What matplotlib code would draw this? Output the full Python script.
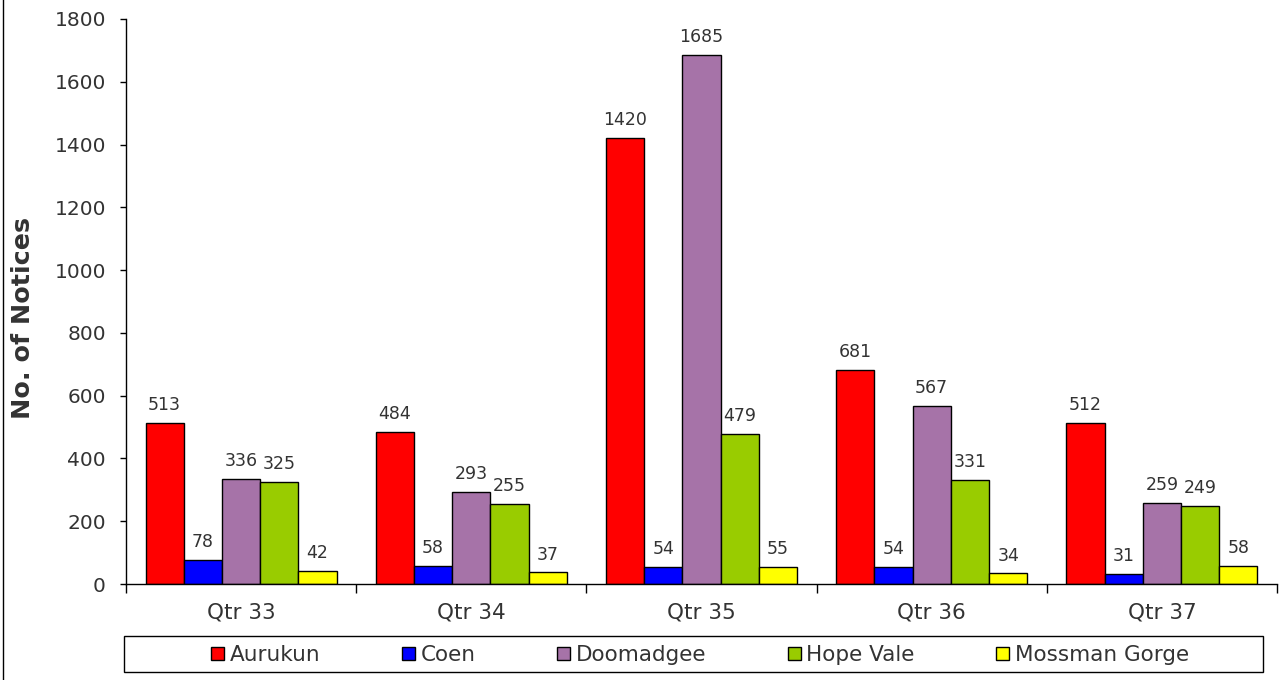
import numpy as np
import matplotlib.pyplot as plt
from matplotlib.lines import Line2D
from matplotlib.patches import Rectangle

quarters = ['Qtr 33', 'Qtr 34', 'Qtr 35', 'Qtr 36', 'Qtr 37']
series = ['Aurukun', 'Coen', 'Doomadgee', 'Hope Vale', 'Mossman Gorge']
colors = ['#ff0000', '#0000ff', '#a673a8', '#99cc00', '#ffff00']

aurukun = [513, 484, 1420, 681, 512]
coen = [78, 58, 54, 54, 31]
doomadgee = [336, 293, 1685, 567, 259]
hope_vale = [325, 255, 479, 331, 249]
mossman = [42, 37, 55, 34, 58]

values = [aurukun, coen, doomadgee, hope_vale, mossman]

TXT = '#333333'
W, H = 1284, 680

fig = plt.figure(figsize=(W / 100, H / 100), dpi=100)
ax = fig.add_axes([126 / W, 1 - 584 / H, (1277 - 126) / W, (584 - 19) / H])

x = np.arange(len(quarters))
w = 0.166
for i, (name, vals, c) in enumerate(zip(series, values, colors)):
  pos = x + (i - 2) * w
  bars = ax.bar(pos, vals, width=w, color=c, edgecolor='black', lw=1.0, label=name)
  for b, v in zip(bars, vals):
    ax.text(b.get_x() + b.get_width() / 2, v + 28, str(v), ha='center', va='bottom',
            fontsize=12.5, color=TXT)

ax.set_xlim(-0.5, len(quarters) - 0.5)
ax.set_ylim(0, 1800)
ax.set_yticks(range(0, 1801, 200))
ax.tick_params(axis='y', labelsize=14.5, colors='black', labelcolor=TXT, length=4.5, width=1, direction='out', pad=10)
ax.set_xticks(x)
ax.set_xticklabels(quarters)
ax.set_xticks(np.arange(-0.5, len(quarters), 1), minor=True)
ax.tick_params(axis='x', which='major', length=0, labelsize=15.5, labelcolor=TXT, pad=13)
ax.tick_params(axis='x', which='minor', length=6.5, width=1, direction='out')
for s in ['top', 'right']:
  ax.spines[s].set_visible(False)
ax.spines['left'].set_linewidth(1)
ax.spines['bottom'].set_linewidth(1)

ax.set_ylabel('No. of Notices', fontsize=18.3, fontweight='bold', color=TXT)
ax.yaxis.set_label_coords(-0.079, 0.471)

# legend box drawn separately, entries centred inside it
fig.add_artist(Rectangle((124 / W, 1 - 672 / H), (1263 - 124) / W, 36 / H, transform=fig.transFigure,
                         facecolor='white', edgecolor='black', lw=1))
leg = fig.legend(loc='center', bbox_to_anchor=(700 / W, 1 - 655 / H), ncol=5, fontsize=15.5,
                 frameon=False, handlelength=0.6, handleheight=0.6, handletextpad=0.25,
                 columnspacing=3.8, borderaxespad=0, borderpad=0)
for t in leg.get_texts():
  t.set_color(TXT)

fig.add_artist(Line2D([3 / W, 3 / W], [0, 1], color='black', lw=1, transform=fig.transFigure))

fig.savefig('out.png', dpi=100)
